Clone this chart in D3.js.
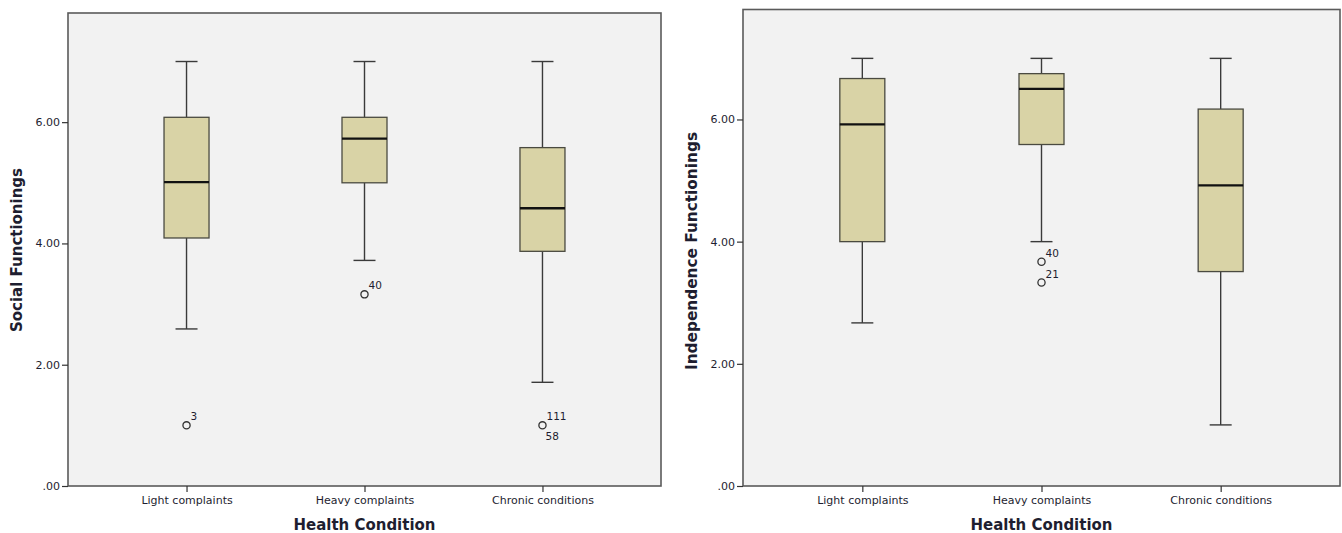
<!DOCTYPE html>
<html><head><meta charset="utf-8">
<script src="https://cdn.jsdelivr.net/npm/d3@7"></script>
<style>body{margin:0;background:#fff}svg text{font-family:"DejaVu Sans",sans-serif;fill:#1e1e30}</style>
</head><body><svg id="c" width="1342" height="533"></svg>
<script>
const categories = ["Light complaints","Heavy complaints","Chronic conditions"];
const yTicks = [0,2,4,6];
const tickLabels = [".00","2.00","4.00","6.00"];
// Social Functionings
const socialLow   = [2.59, 3.72, 1.71];
const socialQ1    = [4.09, 5.00, 3.87];
const socialMed   = [5.01, 5.73, 4.58];
const socialQ3    = [6.08, 6.08, 5.58];
const socialHigh  = [7.00, 7.00, 7.00];
const socialOutliers = [
  {cat:0, v:1.00, labels:[{t:"3", pos:"up"}]},
  {cat:1, v:3.16, labels:[{t:"40", pos:"up"}]},
  {cat:2, v:1.00, labels:[{t:"111", pos:"up"},{t:"58", pos:"down"}]}
];
// Independence Functionings
const indepLow   = [2.67, 4.00, 1.00];
const indepQ1    = [4.00, 5.59, 3.51];
const indepMed   = [5.92, 6.50, 4.92];
const indepQ3    = [6.67, 6.75, 6.17];
const indepHigh  = [7.00, 7.00, 7.00];
const indepOutliers = [
  {cat:1, v:3.67, labels:[{t:"40", pos:"up"}]},
  {cat:1, v:3.33, labels:[{t:"21", pos:"up"}]}
];

const svg = d3.select("#c");

function panel(cfg){
  const {x0,x1,yTop,yBot,low,q1,med,q3,high,outliers,yTitle,yTitleLen,titleX} = cfg;
  const g = svg.append("g");
  const x = d3.scalePoint().domain(categories).range([x0,x1]).padding(0.666);
  const y = d3.scaleLinear().domain([0,7.8]).range([yBot,yTop]);
  g.append("rect").attr("x",x0).attr("y",yTop).attr("width",x1-x0).attr("height",yBot-yTop)
    .attr("fill","#f2f2f2").attr("stroke","#5a5a5a").attr("stroke-width",1.6);
  const ya = g.append("g").attr("transform",`translate(${x0},0)`)
    .call(d3.axisLeft(y).tickValues(yTicks).tickFormat((d,i)=>tickLabels[i]).tickSize(6).tickPadding(2));
  ya.select(".domain").remove();
  ya.selectAll("line").attr("stroke","#333").attr("stroke-width",1.2);
  ya.selectAll("text").style("font-size","11px").attr("fill","#1e1e30");
  const xa = g.append("g").attr("transform",`translate(0,${yBot})`)
    .call(d3.axisBottom(x).tickSize(6).tickPadding(4));
  xa.select(".domain").remove();
  xa.selectAll("line").attr("stroke","#333").attr("stroke-width",1.2);
  xa.selectAll("text").style("font-size","11px").attr("fill","#1e1e30");
  const bw = 45, cw = 22;
  categories.forEach((c,i)=>{
    const cx = x(c);
    const st = "#3a3a3a", sw = 1.4;
    g.append("line").attr("x1",cx).attr("x2",cx).attr("y1",y(high[i])).attr("y2",y(q3[i])).attr("stroke",st).attr("stroke-width",sw);
    g.append("line").attr("x1",cx).attr("x2",cx).attr("y1",y(q1[i])).attr("y2",y(low[i])).attr("stroke",st).attr("stroke-width",sw);
    g.append("line").attr("x1",cx-cw/2).attr("x2",cx+cw/2).attr("y1",y(high[i])).attr("y2",y(high[i])).attr("stroke",st).attr("stroke-width",sw);
    g.append("line").attr("x1",cx-cw/2).attr("x2",cx+cw/2).attr("y1",y(low[i])).attr("y2",y(low[i])).attr("stroke",st).attr("stroke-width",sw);
    g.append("rect").attr("x",cx-bw/2).attr("y",y(q3[i])).attr("width",bw).attr("height",y(q1[i])-y(q3[i]))
      .attr("fill","#d9d3a6").attr("stroke","#4a4a40").attr("stroke-width",1.3);
    g.append("line").attr("x1",cx-bw/2).attr("x2",cx+bw/2).attr("y1",y(med[i])).attr("y2",y(med[i])).attr("stroke","#111").attr("stroke-width",2.3);
  });
  outliers.forEach(o=>{
    const cx = x(categories[o.cat]), cy = y(o.v);
    g.append("circle").attr("cx",cx).attr("cy",cy).attr("r",3.6).attr("fill","none").attr("stroke","#333").attr("stroke-width",1.3);
    o.labels.forEach(l=>{
      g.append("text").attr("x",cx+(l.pos==="up"?4:3)).attr("y",cy+(l.pos==="up"?-5:15))
        .style("font-size","10.5px").text(l.t);
    });
  });
  g.append("text").attr("transform",`translate(${titleX},${cfg.yTitleC}) rotate(-90)`)
    .attr("text-anchor","middle").style("font-size","15px").style("font-weight","bold")
    .attr("textLength",yTitleLen).attr("lengthAdjust","spacingAndGlyphs").attr("fill","#111").text(yTitle);
  g.append("text").attr("x",(x0+x1)/2).attr("y",530).attr("text-anchor","middle")
    .style("font-size","15px").style("font-weight","bold").attr("textLength",142).attr("lengthAdjust","spacingAndGlyphs")
    .attr("fill","#111").text("Health Condition");
}

panel({x0:68,x1:661,yTop:13,yBot:486,low:socialLow,q1:socialQ1,med:socialMed,q3:socialQ3,high:socialHigh,
  outliers:socialOutliers,yTitle:"Social Functionings",yTitleLen:164,yTitleC:250,titleX:22});
panel({x0:743,x1:1340,yTop:9.5,yBot:486,low:indepLow,q1:indepQ1,med:indepMed,q3:indepQ3,high:indepHigh,
  outliers:indepOutliers,yTitle:"Independence Functionings",yTitleLen:238,yTitleC:251,titleX:697});
</script></body></html>
